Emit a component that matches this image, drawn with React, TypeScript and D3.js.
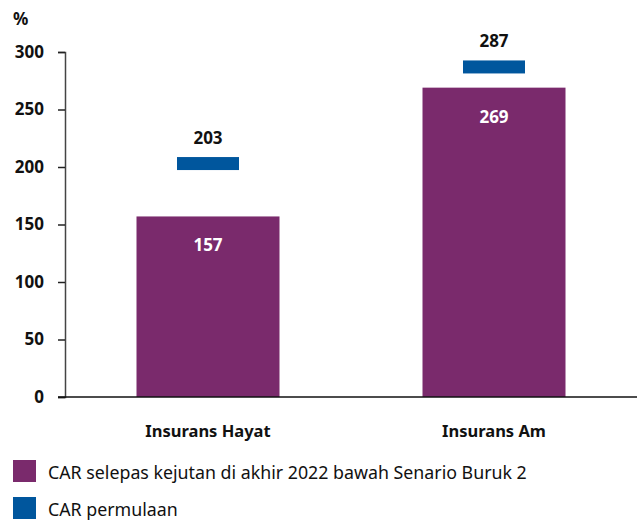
import React, { useEffect, useRef } from "react";
import * as d3 from "d3";

const categories = ["Insurans Hayat", "Insurans Am"];
const stressedCar = [157, 269];
const startingCar = [203, 287];
const yTicks = [0, 50, 100, 150, 200, 250, 300];
const legendLabels = [
  "CAR selepas kejutan di akhir 2022 bawah Senario Buruk 2",
  "CAR permulaan",
];

const PURPLE = "#7a2a6c";
const BLUE = "#00569d";
const FONT = "'Noto Sans', 'Open Sans', sans-serif";

const App = () => {
  const svgRef = useRef<SVGSVGElement>(null);

  useEffect(() => {
    const width = 638;
    const height = 520;
    const margin = { top: 52, right: 1, bottom: 123, left: 65 };

    const root = d3.select(svgRef.current);
    root.selectAll("*").remove();
    root.attr("width", width).attr("height", height);

    const svg = root.append("g").style("font-family", FONT);

    const x = d3
      .scaleBand()
      .domain(categories)
      .range([margin.left, width - margin.right])
      .paddingInner(0.5)
      .paddingOuter(0.25);

    const y = d3
      .scaleLinear()
      .domain([0, 300])
      .range([height - margin.bottom, margin.top]);

    // bars
    svg
      .selectAll(".bar")
      .data(categories)
      .enter()
      .append("rect")
      .attr("x", (d) => x(d)!)
      .attr("y", (d, i) => y(stressedCar[i]))
      .attr("width", x.bandwidth())
      .attr("height", (d, i) => y(0) - y(stressedCar[i]))
      .attr("fill", PURPLE);

    svg
      .selectAll(".bar-label")
      .data(categories)
      .enter()
      .append("text")
      .attr("x", (d) => x(d)! + x.bandwidth() / 2)
      .attr("y", (d, i) => y(stressedCar[i]) + 35)
      .attr("text-anchor", "middle")
      .attr("fill", "#fff")
      .style("font-size", "17px")
      .style("font-weight", "bold")
      .text((d, i) => stressedCar[i]);

    // starting CAR markers
    const mw = 62;
    const mh = 13;
    svg
      .selectAll(".marker")
      .data(categories)
      .enter()
      .append("rect")
      .attr("x", (d) => x(d)! + x.bandwidth() / 2 - mw / 2)
      .attr("y", (d, i) => y(startingCar[i]) - mh / 2)
      .attr("width", mw)
      .attr("height", mh)
      .attr("fill", BLUE);

    svg
      .selectAll(".marker-label")
      .data(categories)
      .enter()
      .append("text")
      .attr("x", (d) => x(d)! + x.bandwidth() / 2)
      .attr("y", (d, i) => y(startingCar[i]) - 20)
      .attr("text-anchor", "middle")
      .attr("fill", "#111")
      .style("font-size", "17px")
      .style("font-weight", "bold")
      .text((d, i) => startingCar[i]);

    // y axis
    const yAxis = svg
      .append("g")
      .attr("transform", `translate(${margin.left},0)`)
      .call(d3.axisLeft(y).tickValues(yTicks).tickSize(7).tickPadding(14));
    yAxis.select(".domain").attr("stroke", "#444").attr("stroke-width", 1.5);
    yAxis.selectAll(".tick line").attr("stroke", "#222").attr("stroke-width", 1.5);
    yAxis
      .selectAll(".tick text")
      .attr("fill", "#111")
      .style("font-family", FONT)
      .style("font-size", "17px")
      .style("font-weight", "bold");

    // x baseline
    svg
      .append("line")
      .attr("x1", margin.left - 7)
      .attr("x2", width - margin.right)
      .attr("y1", y(0))
      .attr("y2", y(0))
      .attr("stroke", "#111")
      .attr("stroke-width", 1.5);

    // category labels
    svg
      .selectAll(".cat")
      .data(categories)
      .enter()
      .append("text")
      .attr("x", (d) => x(d)! + x.bandwidth() / 2)
      .attr("y", y(0) + 40)
      .attr("text-anchor", "middle")
      .attr("fill", "#111")
      .style("font-size", "16.5px")
      .style("font-weight", "bold")
      .text((d) => d);

    // unit
    svg
      .append("text")
      .attr("x", 13)
      .attr("y", 25)
      .attr("fill", "#111")
      .style("font-size", "17px")
      .style("font-weight", "bold")
      .text("%");

    // legend
    const colors = [PURPLE, BLUE];
    const legend = svg
      .selectAll(".legend")
      .data(legendLabels)
      .enter()
      .append("g")
      .attr("transform", (d, i) => `translate(13,${460 + i * 37})`);
    legend
      .append("rect")
      .attr("width", 23)
      .attr("height", 22)
      .attr("fill", (d, i) => colors[i]);
    legend
      .append("text")
      .attr("x", 35)
      .attr("y", 18.5)
      .attr("fill", "#111")
      .style("font-size", "17.8px")
      .text((d) => d);
  }, []);

  return (
    <div style={{ position: "absolute", left: 0, top: 0 }}>
      <svg ref={svgRef}></svg>
    </div>
  );
};

export default App;
